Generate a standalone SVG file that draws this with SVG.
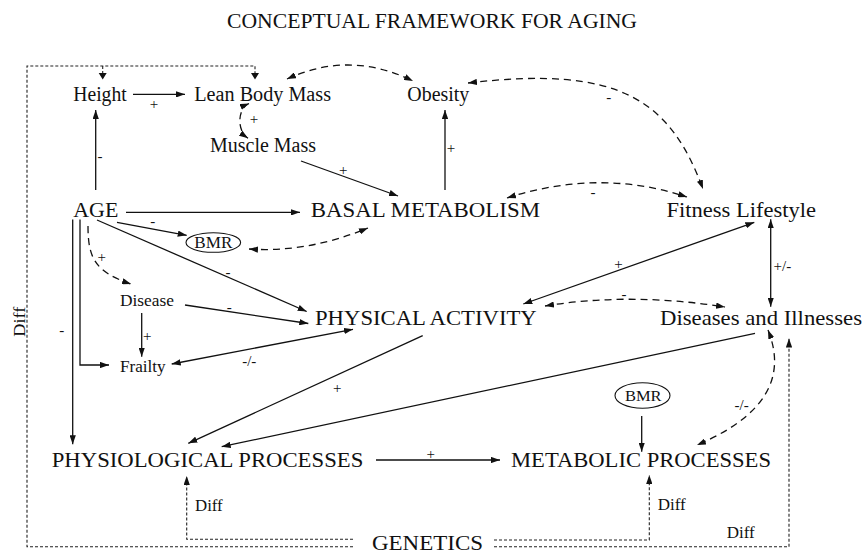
<svg xmlns="http://www.w3.org/2000/svg" width="865" height="554" viewBox="0 0 865 554">
<style>
text{font-family:"Liberation Serif","Times New Roman",serif;fill:#111}
.n{font-size:20px}
.b{font-size:22px}
.s{font-size:17px}
.l{font-size:15px}
.d{font-size:16px}
.sol{fill:none;stroke:#111;stroke-width:1.3}
.dash{fill:none;stroke:#111;stroke-width:1.3;stroke-dasharray:7,5}
.dot{fill:none;stroke:#222;stroke-width:1.1;stroke-dasharray:3,2}
.arr{marker-end:url(#ah)}
.bi{marker-start:url(#ah);marker-end:url(#ah)}
ellipse{fill:none;stroke:#111;stroke-width:1.1}
</style>
<defs>
<marker id="ah" viewBox="0 0 10 7" refX="10" refY="3.5" markerWidth="9" markerHeight="6.3" markerUnits="userSpaceOnUse" orient="auto-start-reverse">
<path d="M0,0 L10,3.5 L0,7 z" fill="#111"/>
</marker>
</defs>
<rect width="865" height="554" fill="#fff"/>
<text x="432" y="28.3" font-size="22" text-anchor="middle" textLength="410" lengthAdjust="spacingAndGlyphs">CONCEPTUAL FRAMEWORK FOR AGING</text>

<g id="connectors">
<path class="dot" d="M353 546.7 H27 V66 H255 V78"/>
<path class="dot" d="M102.7 66 V78"/>
<path d="M98.7 73 L106.7 73 L102.7 79.5 z M251 73 L259 73 L255 79.5 z" fill="#111"/>
<path class="dot arr" d="M494 546.7 H789 V338.5"/>
<path class="dot arr" d="M353 539.3 H186.7 V476"/>
<path class="dot arr" d="M494 540 H649.3 V475"/>
<path class="sol arr" d="M95.7 190 V110"/>
<path class="sol arr" d="M133 94.3 H185"/>
<path class="sol arr" d="M301 161 L398 196"/>
<path class="sol arr" d="M445 190 V110"/>
<path class="sol arr" d="M126 212.3 H300"/>
<path class="sol arr" d="M117 222.3 L186.7 235.3"/>
<path class="sol arr" d="M97 220 L306.7 311.5"/>
<path class="sol arr" d="M185 305 L308.3 323.5"/>
<path class="sol arr" d="M141.7 313 V356.7"/>
<path class="sol arr" d="M80 219.5 V365 H109"/>
<path class="sol arr" d="M72.7 219.5 V444.3"/>
<path class="sol bi" d="M171.7 364 L353 329.3"/>
<path class="sol bi" d="M523.3 304 L754.3 222.3"/>
<path class="sol bi" d="M770.7 219.3 V306.7"/>
<path class="sol arr" d="M422.7 335.7 L188.3 443.3"/>
<path class="sol arr" d="M755 333.3 L221.7 446.7"/>
<path class="sol arr" d="M376 460 H500"/>
<path class="sol arr" d="M641.7 416 V451.7"/>
<path class="dash bi" d="M287 79 Q350 50 413 81"/>
<path class="dash bi" d="M249 103.5 C238 108 236 130 248 138.3"/>
<path class="dash bi" d="M468 83 C620 65 670 100 703 189"/>
<path class="dash bi" d="M507 198 Q600 168 687 197"/>
<path class="dash bi" d="M249 249 Q307 253 368 228"/>
<path class="dash arr" d="M88 226 C88 258 95 272 131 284"/>
<path class="dash bi" d="M545 306 Q630 292 725 307"/>
<path class="dash bi" d="M768 330 C782 365 780 410 697 445"/>
</g>

<g id="labels">
<text class="l" x="154" y="109" text-anchor="middle">+</text>
<text class="l" x="254" y="124" text-anchor="middle">+</text>
<text class="l" x="100" y="160.5" text-anchor="middle">-</text>
<text class="l" x="343.3" y="174.5" text-anchor="middle">+</text>
<text class="l" x="451" y="153" text-anchor="middle">+</text>
<text class="l" x="608.7" y="102" text-anchor="middle">-</text>
<text class="l" x="593" y="197" text-anchor="middle">-</text>
<text class="l" x="152.7" y="226" text-anchor="middle">-</text>
<text class="l" x="228" y="276.5" text-anchor="middle">-</text>
<text class="l" x="101.7" y="262" text-anchor="middle">+</text>
<text class="l" x="229.3" y="312" text-anchor="middle">-</text>
<text class="l" x="147.3" y="341" text-anchor="middle">+</text>
<text class="l" x="249.3" y="365.5" text-anchor="middle">-/-</text>
<text class="l" x="61.7" y="335" text-anchor="middle">-</text>
<text class="l" x="618.5" y="268.5" text-anchor="middle">+</text>
<text class="l" x="773.5" y="270.5">+/-</text>
<text class="l" x="624" y="298.5" text-anchor="middle">-</text>
<text class="l" x="337.3" y="393" text-anchor="middle">+</text>
<text class="l" x="430.7" y="458.5" text-anchor="middle">+</text>
<text class="l" x="741.7" y="410" text-anchor="middle">-/-</text>
<text class="d" x="195" y="510.7" textLength="27.7" lengthAdjust="spacingAndGlyphs">Diff</text>
<text class="d" x="657.7" y="510" textLength="28" lengthAdjust="spacingAndGlyphs">Diff</text>
<text class="d" x="726.7" y="538.3" textLength="28" lengthAdjust="spacingAndGlyphs">Diff</text>
<text class="d" transform="translate(24.5 321.7) rotate(-90)" text-anchor="middle" textLength="30" lengthAdjust="spacingAndGlyphs">Diff</text>
</g>

<g id="height"><text class="n" x="73.3" y="100.7" textLength="53.4" lengthAdjust="spacingAndGlyphs">Height</text></g>
<g id="lean-body-mass"><text class="n" x="194.3" y="100.7" textLength="136.7" lengthAdjust="spacingAndGlyphs">Lean Body Mass</text></g>
<g id="obesity"><text class="n" x="407.3" y="100.7" textLength="62" lengthAdjust="spacingAndGlyphs">Obesity</text></g>
<g id="muscle-mass"><text class="n" x="210" y="151.7" textLength="106" lengthAdjust="spacingAndGlyphs">Muscle Mass</text></g>
<g id="age"><text class="b" x="73.3" y="216.7" textLength="45" lengthAdjust="spacingAndGlyphs">AGE</text></g>
<g id="basal-metabolism"><text class="b" x="310.7" y="216.7" textLength="229.3" lengthAdjust="spacingAndGlyphs">BASAL METABOLISM</text></g>
<g id="fitness-lifestyle"><text class="b" x="666.5" y="216.7" textLength="149.5" lengthAdjust="spacingAndGlyphs">Fitness Lifestyle</text></g>
<g id="bmr-top"><ellipse cx="213.3" cy="242.5" rx="27.3" ry="9.8"/><text class="d" x="213.3" y="248" text-anchor="middle" textLength="38" lengthAdjust="spacingAndGlyphs">BMR</text></g>
<g id="disease"><text class="s" x="120" y="306" textLength="54" lengthAdjust="spacingAndGlyphs">Disease</text></g>
<g id="frailty"><text class="s" x="120" y="371.7" textLength="45.7" lengthAdjust="spacingAndGlyphs">Frailty</text></g>
<g id="physical-activity"><text class="b" x="315" y="324.5" textLength="221.7" lengthAdjust="spacingAndGlyphs">PHYSICAL ACTIVITY</text></g>
<g id="diseases-illnesses"><text class="b" x="660" y="324.5" textLength="202" lengthAdjust="spacingAndGlyphs">Diseases and Illnesses</text></g>
<g id="bmr-bottom"><ellipse cx="642.5" cy="395.5" rx="27.5" ry="12.8"/><text class="l" x="643.3" y="401" text-anchor="middle" textLength="36.7" lengthAdjust="spacingAndGlyphs">BMR</text></g>
<g id="physiological-processes"><text class="b" x="51.7" y="466.7" textLength="311.6" lengthAdjust="spacingAndGlyphs">PHYSIOLOGICAL PROCESSES</text></g>
<g id="metabolic-processes"><text class="b" x="511" y="466.7" textLength="260" lengthAdjust="spacingAndGlyphs">METABOLIC PROCESSES</text></g>
<g id="genetics"><text x="372" y="549.5" font-size="20" textLength="111" lengthAdjust="spacingAndGlyphs">GENETICS</text></g>
</svg>
